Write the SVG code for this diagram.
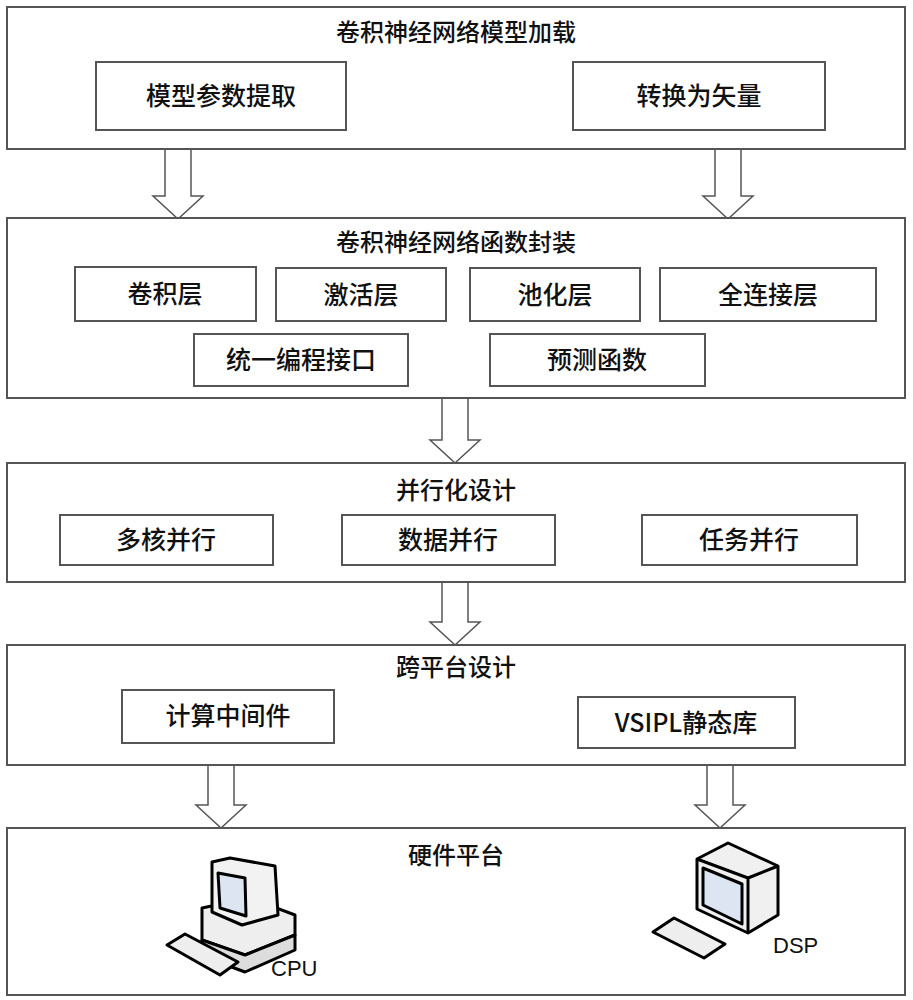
<svg xmlns="http://www.w3.org/2000/svg" width="913" height="1000" viewBox="0 0 913 1000">
<style>
.b{fill:#fff;stroke:#555;stroke-width:2}
.t{font-family:"Noto Sans CJK SC","Liberation Sans",sans-serif;font-size:25px;font-weight:500;fill:#111;text-anchor:middle}
.h{font-size:24px}
.a{fill:#fff;stroke:#555;stroke-width:1.5}
.k{stroke:#000;stroke-width:3;stroke-linejoin:round}
.l{font-family:"Liberation Sans",sans-serif;font-size:22px;fill:#111}
</style>
<rect width="913" height="1000" fill="#fff"/>
<g id="connectors">
<path class="a" d="M165,149V196H153L178,219L203,196H191V149Z"/>
<path class="a" d="M715,149V196H703L728,219L753,196H741V149Z"/>
<path class="a" d="M442,398V440H430L455,463L480,440H468V398Z"/>
<path class="a" d="M442,582V622H430L455,645L480,622H468V582Z"/>
<path class="a" d="M208,765V805H196L221,828L246,805H234V765Z"/>
<path class="a" d="M707,765V805H695L720,828L745,805H733V765Z"/>
</g>
<g id="load"><rect class="b" x="7" y="7" width="898" height="142"/><text class="t h" x="456" y="41">卷积神经网络模型加载</text></g>
<g id="extract"><rect class="b" x="96" y="62" width="250" height="68"/><text class="t" x="221" y="105">模型参数提取</text></g>
<g id="vector"><rect class="b" x="573" y="62" width="252" height="68"/><text class="t" x="699" y="105">转换为矢量</text></g>
<g id="wrap"><rect class="b" x="7" y="218" width="898" height="180"/><text class="t h" x="456" y="251">卷积神经网络函数封装</text></g>
<g id="conv"><rect class="b" x="75" y="267" width="181" height="54"/><text class="t" x="165" y="303">卷积层</text></g>
<g id="act"><rect class="b" x="276" y="268" width="170" height="53"/><text class="t" x="361" y="304">激活层</text></g>
<g id="pool"><rect class="b" x="470" y="268" width="170" height="53"/><text class="t" x="555" y="304">池化层</text></g>
<g id="fc"><rect class="b" x="660" y="268" width="216" height="53"/><text class="t" x="768" y="304">全连接层</text></g>
<g id="api"><rect class="b" x="194" y="334" width="214" height="52"/><text class="t" x="301" y="369">统一编程接口</text></g>
<g id="pred"><rect class="b" x="490" y="334" width="215" height="52"/><text class="t" x="597" y="369">预测函数</text></g>
<g id="par"><rect class="b" x="7" y="463" width="898" height="119"/><text class="t h" x="456" y="499">并行化设计</text></g>
<g id="multi"><rect class="b" x="60" y="515" width="213" height="50"/><text class="t" x="166" y="549">多核并行</text></g>
<g id="data"><rect class="b" x="342" y="515" width="213" height="50"/><text class="t" x="448" y="549">数据并行</text></g>
<g id="task"><rect class="b" x="642" y="515" width="215" height="50"/><text class="t" x="749" y="549">任务并行</text></g>
<g id="cross"><rect class="b" x="7" y="645" width="898" height="120"/><text class="t h" x="456" y="676">跨平台设计</text></g>
<g id="mid"><rect class="b" x="122" y="690" width="212" height="53"/><text class="t" x="228" y="725">计算中间件</text></g>
<g id="vsipl"><rect class="b" x="578" y="697" width="217" height="51"/><text class="t" x="686" y="732">VSIPL静态库</text></g>
<g id="hw"><rect class="b" x="7" y="828" width="898" height="167"/><text class="t h" x="456" y="864">硬件平台</text></g>
<g id="cpu">
<path class="k" fill="#eee" d="M202,908L250,898L295,915L295,935L245,955L202,940Z"/>
<path class="k" fill="#ddd" d="M245,955L295,935L295,950L245,972L202,956L202,940Z"/>
<path class="k" fill="#f2f2f2" d="M212,862L230,858L275,866L278,915L242,925L212,912Z"/>
<path class="k" fill="#dde4f2" d="M218,873L245,878L246,916L220,908Z"/>
<path class="k" fill="#eee" d="M167,945L185,934L238,962L220,975Z"/>
<text class="l" x="271" y="976">CPU</text>
</g>
<g id="dsp">
<path class="k" fill="#f0f0f0" d="M697,859L728,843L778,866L778,915L748,933L697,909Z"/>
<path class="k" fill="none" d="M697,859L748,878L778,866M748,878V933"/>
<path class="k" fill="#dde4f2" d="M703,868L742,884L742,924L703,905Z"/>
<path class="k" fill="#eee" d="M653,932L674,918L725,944L704,958Z"/>
<text class="l" x="773" y="953">DSP</text>
</g>
</svg>
